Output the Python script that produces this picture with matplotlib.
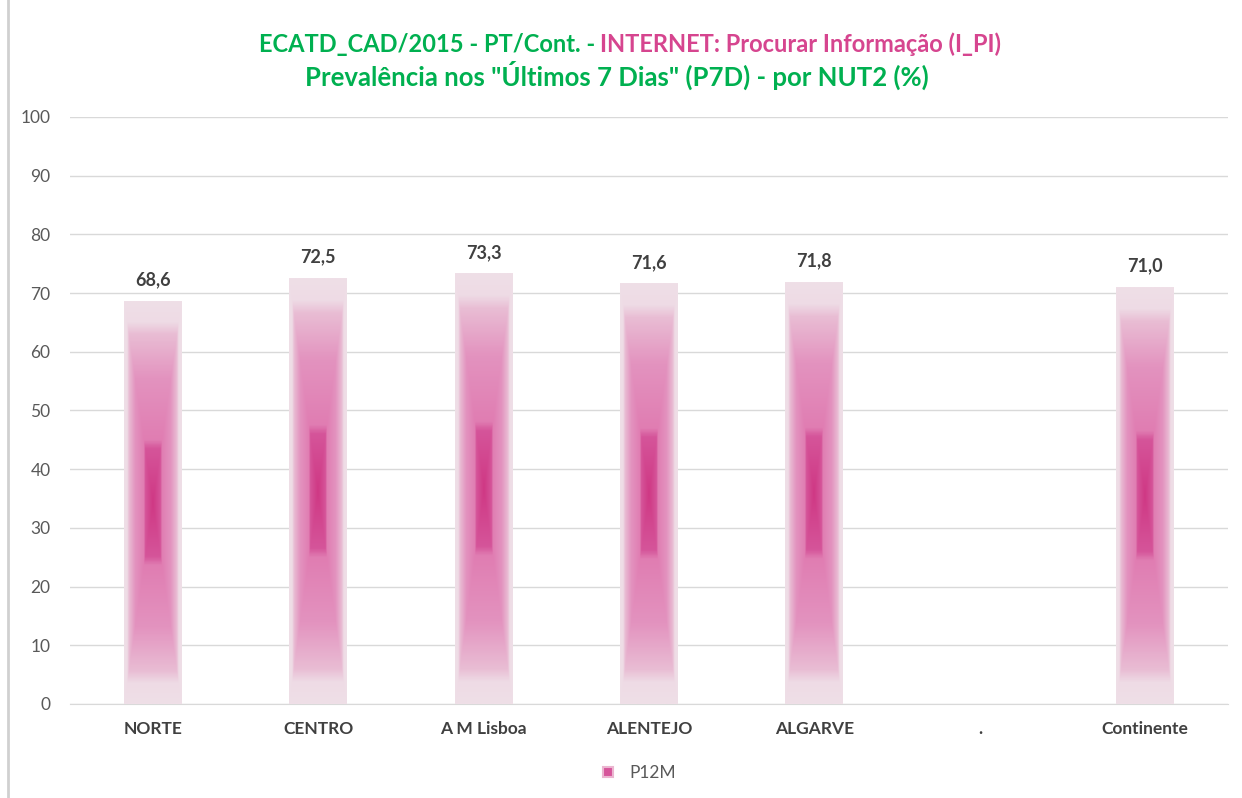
import numpy as np
import matplotlib.pyplot as plt
from matplotlib.colors import LinearSegmentedColormap
from matplotlib.lines import Line2D

plt.rcParams['font.family'] = ['Lato', 'DejaVu Sans']

categories = ["NORTE", "CENTRO", "A M Lisboa", "ALENTEJO", "ALGARVE", ".", "Continente"]
values = [68.6, 72.5, 73.3, 71.6, 71.8, np.nan, 71.0]
labels = ["68,6", "72,5", "73,3", "71,6", "71,8", "", "71,0"]

green = "#00B050"
pink = "#D6458F"

fig = plt.figure(figsize=(12.42, 7.98), dpi=100)
ax = fig.add_axes([0.0564, 0.1178, 0.9323, 0.7356])

# rectangular gradient (dark core, pale edges)
cmap = LinearSegmentedColormap.from_list("bargrad", [
    (0.0, "#CF3884"), (0.27, "#D5559A"), (0.31, "#E07DB2"),
    (0.62, "#E393BF"), (0.84, "#E9BDD4"), (0.90, "#EEDBE5"), (1.0, "#EFDFE7")])
u = np.linspace(-1, 1, 80)
v = np.linspace(-1, 1, 300)
U, V = np.meshgrid(u, v)
grad = np.maximum(np.abs(U), np.abs(V))

x = np.arange(len(categories))
heights = np.nan_to_num(values)
bars = ax.bar(x, heights, width=0.35, facecolor="none", edgecolor="none", zorder=3)
for b, val, lab in zip(bars, values, labels):
    if np.isnan(val):
        continue
    x0, w, h = b.get_x(), b.get_width(), b.get_height()
    ax.imshow(grad, cmap=cmap, vmin=0, vmax=1, extent=[x0, x0 + w, 0, h],
              aspect="auto", origin="lower", zorder=3, interpolation="bilinear")
    ax.text(x0 + w / 2, h + 2.2, lab, ha="center", va="bottom",
            fontsize=13, fontweight="bold", color="#404040")

ax.set_xlim(-0.5, len(categories) - 0.5)
ax.set_ylim(0, 100)
ax.set_yticks(range(0, 101, 10))
ax.set_xticks(x)
ax.set_xticklabels(categories, fontsize=12.5, fontweight="bold", color="#404040")
ax.tick_params(axis="y", labelsize=12.5, labelcolor="#595959", length=0, pad=14)
ax.tick_params(axis="x", length=0, pad=12)
ax.grid(axis="y", color="#D9D9D9", linewidth=1, zorder=0)
ax.set_axisbelow(True)
for s in ["top", "right", "left"]:
    ax.spines[s].set_visible(False)
ax.spines["bottom"].set_color("#D9D9D9")

# title: two colours on the first line, centred as a whole
cx = 630 / 1242
t1 = fig.text(0, 0.944, "ECATD_CAD/2015 - PT/Cont. - ", color=green, fontsize=17,
              fontweight="bold", ha="left", va="center")
t2 = fig.text(0, 0.944, "INTERNET: Procurar Informação (I_PI)", color=pink, fontsize=17,
              fontweight="bold", ha="left", va="center")
r = fig.canvas.get_renderer()
w1 = t1.get_window_extent(r).width / fig.bbox.width
w2 = t2.get_window_extent(r).width / fig.bbox.width
start = cx - (w1 + w2) / 2
t1.set_x(start)
t2.set_x(start + w1)
fig.text(617 / 1242, 0.905, "Prevalência nos \"Últimos 7 Dias\" (P7D) - por NUT2 (%)", color=green,
         fontsize=18.5, fontweight="bold", ha="center", va="center")

handle = Line2D([], [], marker="s", linestyle="none", markersize=7,
                markerfacecolor="#D6559A", markeredgecolor="#EBB5D0", markeredgewidth=1.5)
fig.legend([handle], ["P12M"], loc="center", bbox_to_anchor=(0.51, 0.031), frameon=False,
           fontsize=12.5, labelcolor="#595959", handletextpad=0.2)

fig.add_artist(Line2D([0.0065, 0.0065], [0, 1], color="#D0D0D0", linewidth=2,
                      transform=fig.transFigure))

fig.savefig("out.png", dpi=100)
